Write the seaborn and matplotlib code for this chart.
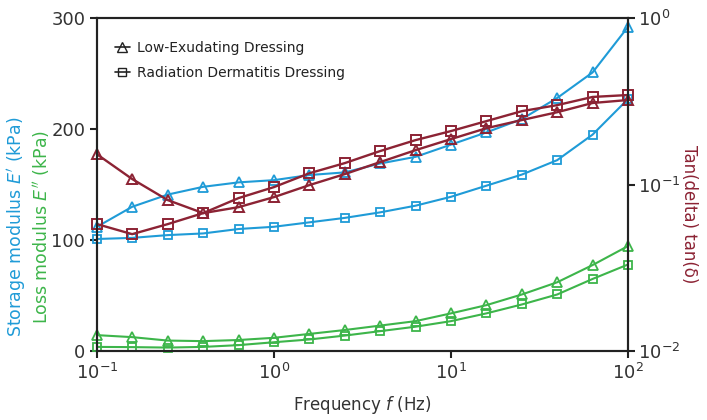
import numpy as np
import pandas as pd
import matplotlib
matplotlib.use("Agg")
import matplotlib.pyplot as plt
from matplotlib.lines import Line2D
import seaborn as sns

# frequency sweep points (Hz)
freq = [0.1, 0.158, 0.251, 0.398, 0.631, 1.0, 1.585, 2.512, 3.981, 6.31,
        10.0, 15.85, 25.12, 39.81, 63.1, 100.0]

# storage modulus E' (kPa)
storage_low = [112, 130, 141, 148, 152, 154, 158.6, 161, 169, 175, 186, 197, 209, 228, 251, 292]
storage_rad = [101, 102, 104.5, 106, 110, 112, 116, 120, 125, 131, 139, 149, 159, 172, 195, 227]

# loss modulus E'' (kPa)
loss_low = [14.4, 12.6, 9.5, 9, 10, 12, 15.5, 19, 23, 27, 34, 41.4, 51, 62, 77.5, 94.6]
loss_rad = [3.8, 3.6, 3.2, 3.8, 5.4, 8, 10.5, 14, 18, 22, 27, 34, 42, 51, 65, 78]

# tan(delta)
tan_low = [0.152, 0.108, 0.0807, 0.0674, 0.0732, 0.0841, 0.0993, 0.1156,
           0.1365, 0.161, 0.1876, 0.218, 0.244, 0.272, 0.309, 0.322]
tan_rad = [0.0579, 0.0504, 0.0579, 0.0674, 0.083, 0.0966, 0.117, 0.1346,
           0.159, 0.185, 0.2096, 0.2405, 0.276, 0.300, 0.336, 0.345]

BLUE = "#1f9bd7"
GREEN = "#3db54a"
RED = "#8c2334"
INK = "#222222"

sns.set_style("ticks")
plt.rcParams["font.family"] = ["DejaVu Sans"]
plt.rcParams["mathtext.fontset"] = "dejavusans"

fig = plt.figure(figsize=(7.07, 4.2), dpi=100)
ax = fig.add_axes([0.1372, 0.164, 0.751, 0.793])
ax2 = ax.twinx()

left_series = [
    (storage_low, BLUE, "^"),
    (storage_rad, BLUE, "s"),
    (loss_low, GREEN, "^"),
    (loss_rad, GREEN, "s"),
]
for vals, col, mk in left_series:
    df = pd.DataFrame({"f": freq, "v": vals})
    sns.lineplot(data=df, x="f", y="v", ax=ax, color=col, marker=mk,
                 markersize=6.5 if mk == "^" else 6, markerfacecolor="none",
                 markeredgecolor=col, markeredgewidth=1.3, linewidth=1.5,
                 clip_on=False)

for vals, mk in [(tan_low, "^"), (tan_rad, "s")]:
    df = pd.DataFrame({"f": freq, "v": vals})
    sns.lineplot(data=df, x="f", y="v", ax=ax2, color=RED, marker=mk,
                 markersize=7, markerfacecolor="none", markeredgecolor=RED,
                 markeredgewidth=1.4, linewidth=1.7, clip_on=False)

ax.set_xscale("log")
ax.set_xlim(0.1, 100)
ax.set_ylim(0, 300)
ax.set_yticks([0, 100, 200, 300])
ax2.set_yscale("log")
ax2.set_ylim(0.01, 1)
ax2.set_yticks([0.01, 0.1, 1])
ax2.minorticks_off()
ax.xaxis.set_minor_locator(matplotlib.ticker.NullLocator())

for a in (ax, ax2):
    a.set_xlabel("")
    a.set_ylabel("")
    for s in a.spines.values():
        s.set_linewidth(1.5)
        s.set_color(INK)
    a.tick_params(labelsize=13, width=1.5, length=5, colors=INK,
                  labelcolor="#333333")
ax2.tick_params(axis="y", pad=2)

ax.set_xlabel("Frequency $\\mathit{f}$ (Hz)", fontsize=12, color="#333333",
              labelpad=8)

fig.text(0.024, 0.46, "Storage modulus $\\mathit{E'}$ (kPa)", rotation=90,
         color=BLUE, fontsize=12.5, ha="center", va="center")
fig.text(0.058, 0.46, "Loss modulus $\\mathit{E''}$ (kPa)", rotation=90,
         color=GREEN, fontsize=12.5, ha="center", va="center")
fig.text(0.975, 0.49, "Tan(delta) tan(δ)", rotation=270,
         color=RED, fontsize=12, ha="center", va="center")

handles = [
    Line2D([], [], color=INK, marker="^", markerfacecolor="none",
           markersize=6.5, linewidth=1.2, label="Low-Exudating Dressing"),
    Line2D([], [], color=INK, marker="s", markerfacecolor="none",
           markersize=5.5, linewidth=1.2, label="Radiation Dermatitis Dressing"),
]
ax.legend(handles=handles, loc="upper left", bbox_to_anchor=(0.01, 0.97),
          frameon=False, fontsize=10, handlelength=1.1, handletextpad=0.5,
          labelspacing=0.8, labelcolor="#222222")

fig.savefig("out.png", dpi=100)
